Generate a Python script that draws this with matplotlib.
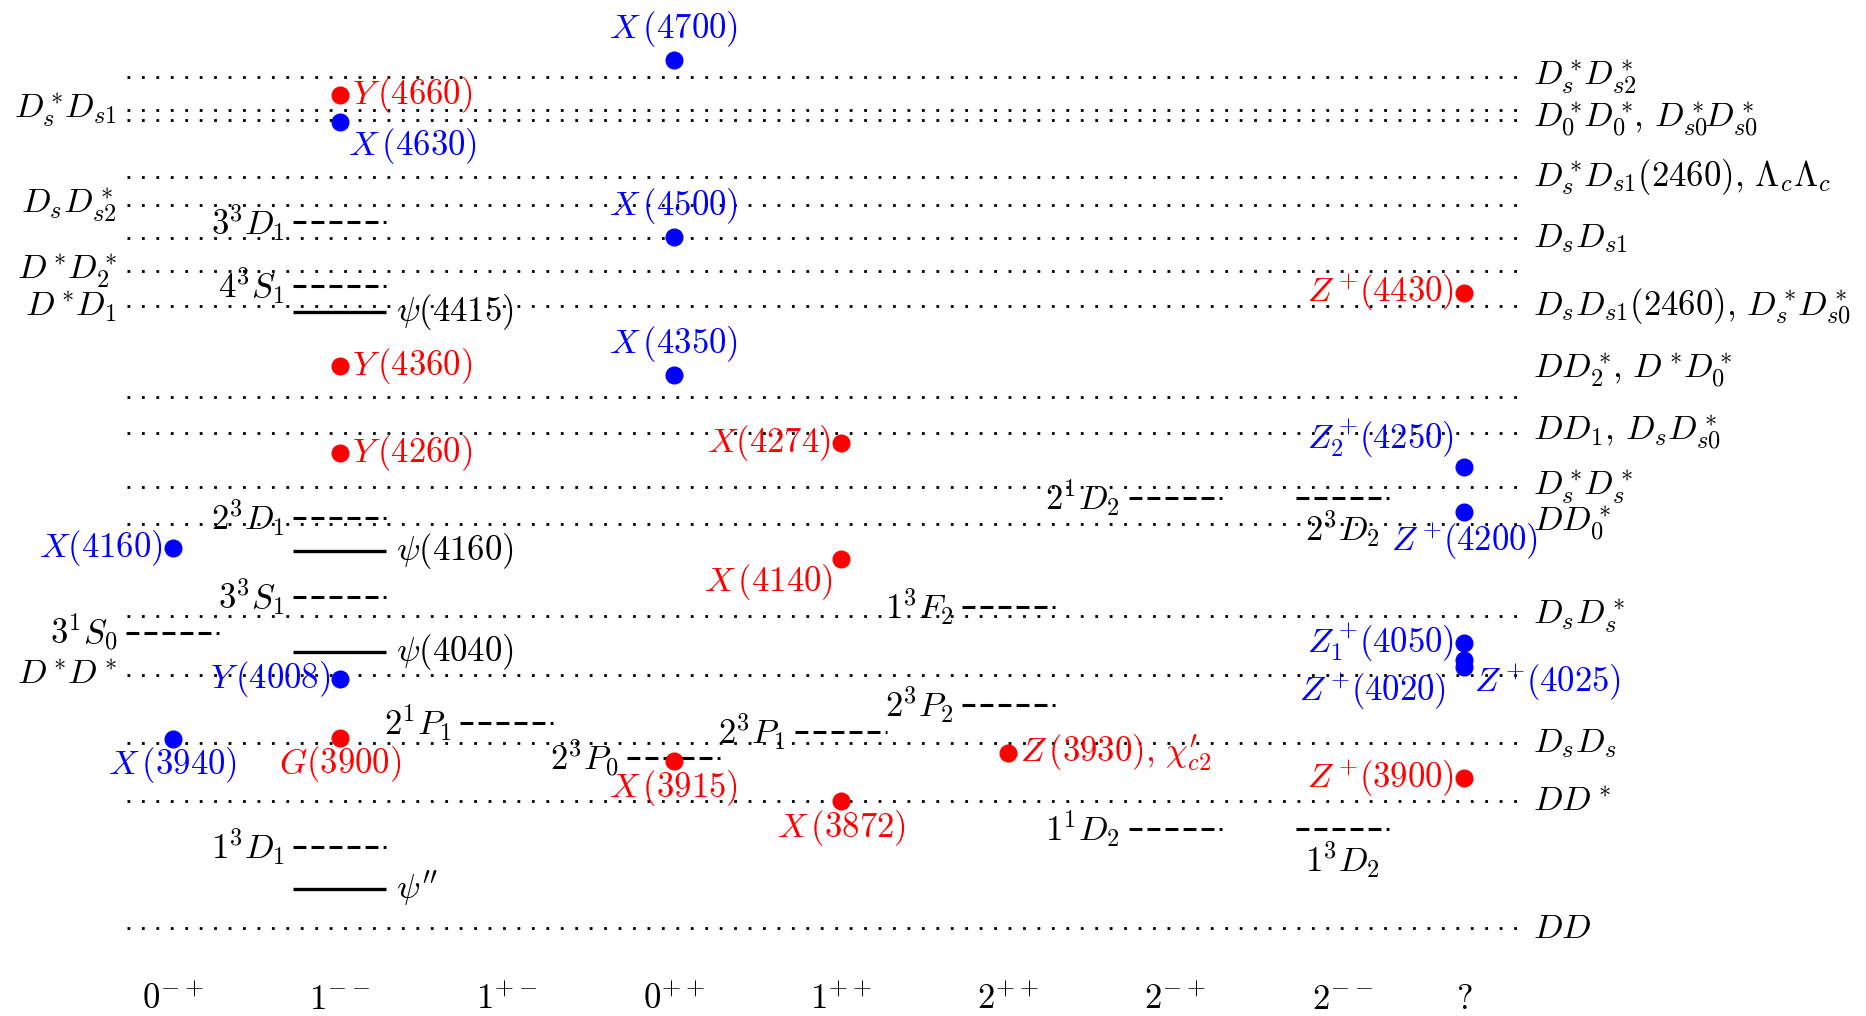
import numpy as np
import matplotlib.pyplot as plt
from matplotlib.transforms import blended_transform_factory

plt.rcParams['mathtext.fontset'] = 'cm'
plt.rcParams['font.family'] = ['DejaVu Serif']

FS = 25

# J^PC columns along the bottom
columns = [r'$0^{-+}$', r'$1^{--}$', r'$1^{+-}$', r'$0^{++}$', r'$1^{++}$',
           r'$2^{++}$', r'$2^{-+}$', r'$2^{--}$', r'$?$']
col_x = [0, 1, 2, 3, 4, 5, 6, 7, 7.73]

# open-charm thresholds (MeV)
threshold_mass = [4684, 4647, 4636, 4572, 4540, 4503, 4467, 4427, 4325,
                  4285, 4224, 4183, 4080, 4014, 3937, 3872, 3730]
threshold_left = [None, r'$D^*_s\!D_{s1}$', None, None, r'$D_sD^*_{s2}$', None,
                  r'$D^*\!D^*_2$', r'$D^*\!D_1$', None, None, None, None, None,
                  r'$D^*\!D^*$', None, None, None]
threshold_right = [r'$D^*_s\!D^*_{s2}$', None,
                   r'$D^*_0\!D^*_0\!,\,D^*_{s0}\!D^*_{s0}$',
                   r'$D^*_s\!D_{s1}(2460),\,\Lambda_c\Lambda_c$', None,
                   r'$D_sD_{s1}$', None, r'$D_sD_{s1}(2460),\,D^*_s\!D^*_{s0}$',
                   r'$DD^*_2\!,\,D^*\!D^*_0$', r'$DD_1,\,D_sD^*_{s0}$',
                   r'$D^*_s\!D^*_s$', r'$DD^*_0$', r'$D_sD^*_s$', None,
                   r'$D_sD_s$', r'$DD^*$', r'$DD$']

# quark-model predictions (dashed)
pred_col = [1, 1, 1, 1, 1, 0, 2, 3, 4, 5, 5, 6, 6, 7, 7]
pred_mass = [4521, 4450, 4190, 4101, 3821, 4061, 3960, 3920, 3950, 3980,
             4090, 4212, 3841, 4212, 3841]
pred_name = [r'$3^3D_1$', r'$4^3S_1$', r'$2^3D_1$', r'$3^3S_1$', r'$1^3D_1$',
             r'$3^1S_0$', r'$2^1P_1$', r'$2^3P_0$', r'$2^3P_1$', r'$2^3P_2$',
             r'$1^3F_2$', r'$2^1D_2$', r'$1^1D_2$', r'$2^3D_2$', r'$1^3D_2$']

# established vector charmonia (solid)
psi_mass = [4421, 4153, 4039, 3774]
psi_name = [r'$\psi(4415)$', r'$\psi(4160)$', r'$\psi(4040)$', r"$\psi''$"]

# XYZ states
blue_name = [r'$X\,(4700)$', r'$X\,(4630)$', r'$X\,(4500)$', r'$X\,(4350)$', r'$X(4160)$',
             r'$Y\,(4008)$', r'$X\,(3940)$', r'$Z_2^+\!(4250)$', r'$Z^+\!(4200)$',
             r'$Z_1^+\!(4050)$', r'$Z^+\!(4020)$', r'$Z^+\!(4025)$']
blue_col = [3, 1, 3, 3, 0, 1, 0, 8, 8, 8, 8, 8]
blue_mass = [4703, 4633, 4505, 4350, 4156, 4009, 3942, 4247, 4196, 4050, 4022, 4030]

red_name = [r'$Y\,(4660)$', r'$Y\,(4360)$', r'$Y\,(4260)$', r'$G(3900)$', r'$X(4274)$',
            r'$X\,(4140)$', r'$X\,(3915)$', r'$X\,(3872)$',
            r'$Z\,(3930),\,\chi^{\prime}_{c2}$', r'$Z^+\!(4430)$', r'$Z^+\!(3900)$']
red_col = [1, 1, 1, 1, 4, 4, 3, 4, 5, 8, 8]
red_mass = [4664, 4360, 4263, 3943, 4274, 4144, 3917, 3872, 3926, 4442, 3898]

# label placement: (dx pt, dy pt, ha)
R, L, A, B = (8.5, 0, 'left'), (-7, 0, 'right'), (0, 22, 'center'), (0, -19, 'center')
blue_lab = [A, (6, -17, 'left'), A, A, L, L, B, (-7, 20, 'right'), (0, -21, 'center'),
            L, (-13, -17, 'right'), (7, -16, 'left')]
red_lab = [R, R, R, B, L, (-6, -17, 'right'), B, B, R, L, L]

fig = plt.figure(figsize=(18.66, 10.16), dpi=100)
ax = fig.add_axes([0, 0, 1, 1])
ax.set_xlim(-1.033, 10.134)
ax.set_ylim(3631.3, 4770.3)
ax.axis('off')

x0, x1 = -0.27, 8.105
ax.hlines(threshold_mass, x0, x1, colors='k', lw=2.0,
          linestyles=[(0, (1, 4.2))], zorder=1)
for m, lt, rt in zip(threshold_mass, threshold_left, threshold_right):
    if lt:
        ax.annotate(lt, (x0, m), xytext=(-8, 0), textcoords='offset points',
                    ha='right', va='center', fontsize=FS)
    if rt:
        dy = 19 if m == 4325 else 0
        ax.annotate(rt, (x1, m), xytext=(4, dy), textcoords='offset points',
                    ha='left', va='center', fontsize=FS)

hw = 0.278
for c, m, name in zip(pred_col, pred_mass, pred_name):
    x = col_x[c]
    ax.hlines(m, x - hw, x + hw, colors='k', lw=2.2,
              linestyles=[(0, (4.2, 1.7))], zorder=2)
    if c == 7:
        ax.annotate(name, (x, m), xytext=(0, -22), textcoords='offset points',
                    ha='center', va='center', fontsize=FS)
    else:
        ax.annotate(name, (x - hw, m), xytext=(-6, 0), textcoords='offset points',
                    ha='right', va='center', fontsize=FS)

for m, name in zip(psi_mass, psi_name):
    x = col_x[1]
    ax.hlines(m, x - hw, x + hw, colors='k', lw=2.4, zorder=2)
    ax.annotate(name, (x + hw, m), xytext=(7, 0), textcoords='offset points',
                ha='left', va='center', fontsize=FS)

def draw_states(names, cols, masses, labs, color):
    xs = [col_x[c] for c in cols]
    ax.plot(xs, masses, 'o', color=color, ms=12, zorder=4)
    for x, m, name, (dx, dy, ha) in zip(xs, masses, names, labs):
        ax.annotate(name, (x, m), xytext=(dx, dy), textcoords='offset points',
                    ha=ha, va='center', fontsize=FS, color=color, zorder=5)

draw_states(blue_name, blue_col, blue_mass, blue_lab, 'blue')
draw_states(red_name, red_col, red_mass, red_lab, 'red')

trans = blended_transform_factory(ax.transData, ax.transAxes)
for x, lab in zip(col_x, columns):
    ax.text(x, 0.017, lab, transform=trans, ha='center', va='center', fontsize=FS)

fig.savefig('out.png', dpi=100)
